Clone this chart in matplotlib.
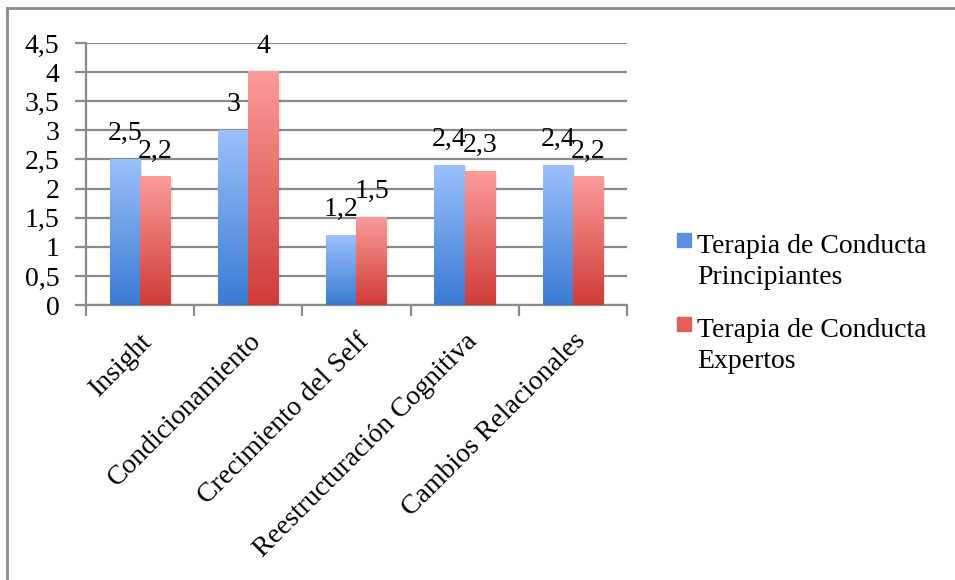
import numpy as np
import matplotlib
matplotlib.use('Agg')
import matplotlib.pyplot as plt
from matplotlib.colors import LinearSegmentedColormap
from matplotlib.lines import Line2D
from matplotlib.patches import Rectangle

categorias = ['Insight', 'Condicionamiento', 'Crecimiento del Self',
              'Reestructuración Cognitiva', 'Cambios Relacionales']
principiantes = [2.5, 3, 1.2, 2.4, 2.4]
expertos = [2.2, 4, 1.5, 2.3, 2.2]
series_labels = ['Terapia de Conducta\nPrincipiantes',
                 'Terapia de Conducta\nExpertos']
yticks = [0, 0.5, 1, 1.5, 2, 2.5, 3, 3.5, 4, 4.5]

plt.rcParams['font.family'] = ['Liberation Serif', 'DejaVu Serif']

azul = LinearSegmentedColormap.from_list('azul', ['#3a7bd3', '#9cc0fb'])
rojo = LinearSegmentedColormap.from_list('rojo', ['#cf3c38', '#fb9c9a'])
gris = '#8a8a8a'
fs = 20

fig = plt.figure(figsize=(9.55, 5.8), dpi=100)
ax = fig.add_axes([0.090, 0.474, 0.5665, 0.452])

x = np.arange(len(categorias))
w = 0.28
bars1 = ax.bar(x - w / 2, principiantes, w, color='none', zorder=3)
bars2 = ax.bar(x + w / 2, expertos, w, color='none', zorder=3)

# degradado vertical dentro de cada barra
grad = np.linspace(0, 1, 256).reshape(-1, 1)
for bars, cmap in [(bars1, azul), (bars2, rojo)]:
    for b in bars:
        x0, h, bw = b.get_x(), b.get_height(), b.get_width()
        # sombra suave
        ax.add_patch(Rectangle((x0 + 0.02, 0), bw, h - 0.02, color='#000000',
                               alpha=0.08, zorder=2.5, lw=0))
        ax.imshow(grad, extent=[x0, x0 + bw, 0, h], origin='lower',
                  cmap=cmap, aspect='auto', zorder=3)

for bars, vals in [(bars1, principiantes), (bars2, expertos)]:
    for b, v in zip(bars, vals):
        ax.annotate(('%g' % v).replace('.', ','),
                    (b.get_x() + b.get_width() / 2, v),
                    xytext=(0, 14), textcoords='offset points',
                    ha='center', va='baseline', fontsize=fs, zorder=5)

ax.set_xlim(-0.5, len(categorias) - 0.5)
ax.set_ylim(0, 4.5)
ax.set_yticks(yticks)
ax.set_yticklabels([('%g' % t).replace('.', ',') for t in yticks], fontsize=fs)
ax.yaxis.grid(True, color=gris, linewidth=1.6, zorder=0)
ax.set_axisbelow(True)

ax.set_xticks(x)
ax.set_xticklabels(categorias, rotation=45, ha='right',
                   rotation_mode='anchor', fontsize=fs)
ax.set_xticks(np.arange(len(categorias) + 1) - 0.5, minor=True)
ax.tick_params(axis='x', which='major', length=0, pad=17)
ax.tick_params(axis='x', which='minor', length=8, width=1.6, color=gris)
ax.tick_params(axis='y', length=8, width=1.6, color=gris, pad=11)

for s in ['top', 'right']:
    ax.spines[s].set_visible(False)
for s in ['left', 'bottom']:
    ax.spines[s].set_color(gris)
    ax.spines[s].set_linewidth(1.6)

# leyenda hecha a mano
H = 580.0
W = 955.0
for i, (lab, col) in enumerate(zip(series_labels, ['#5b8fe0', '#e25f5c'])):
    base = 253 + i * 84
    fig.patches.append(Rectangle((677 / W, 1 - (base - 6) / H),
                                 14 / W, 14 / H, color=col,
                                 transform=fig.transFigure, figure=fig))
    for j, linea in enumerate(lab.split('\n')):
        fig.text(697 / W, 1 - (base + j * 31) / H, linea, fontsize=fs,
                 va='baseline')

# marco
fig.lines.append(Line2D([7 / W, 1], [1 - 8 / H, 1 - 8 / H],
                        color=gris, lw=2, transform=fig.transFigure))
fig.lines.append(Line2D([7 / W, 7 / W], [0, 1 - 8 / H],
                        color=gris, lw=2, transform=fig.transFigure))

fig.savefig('out.png', dpi=100)
